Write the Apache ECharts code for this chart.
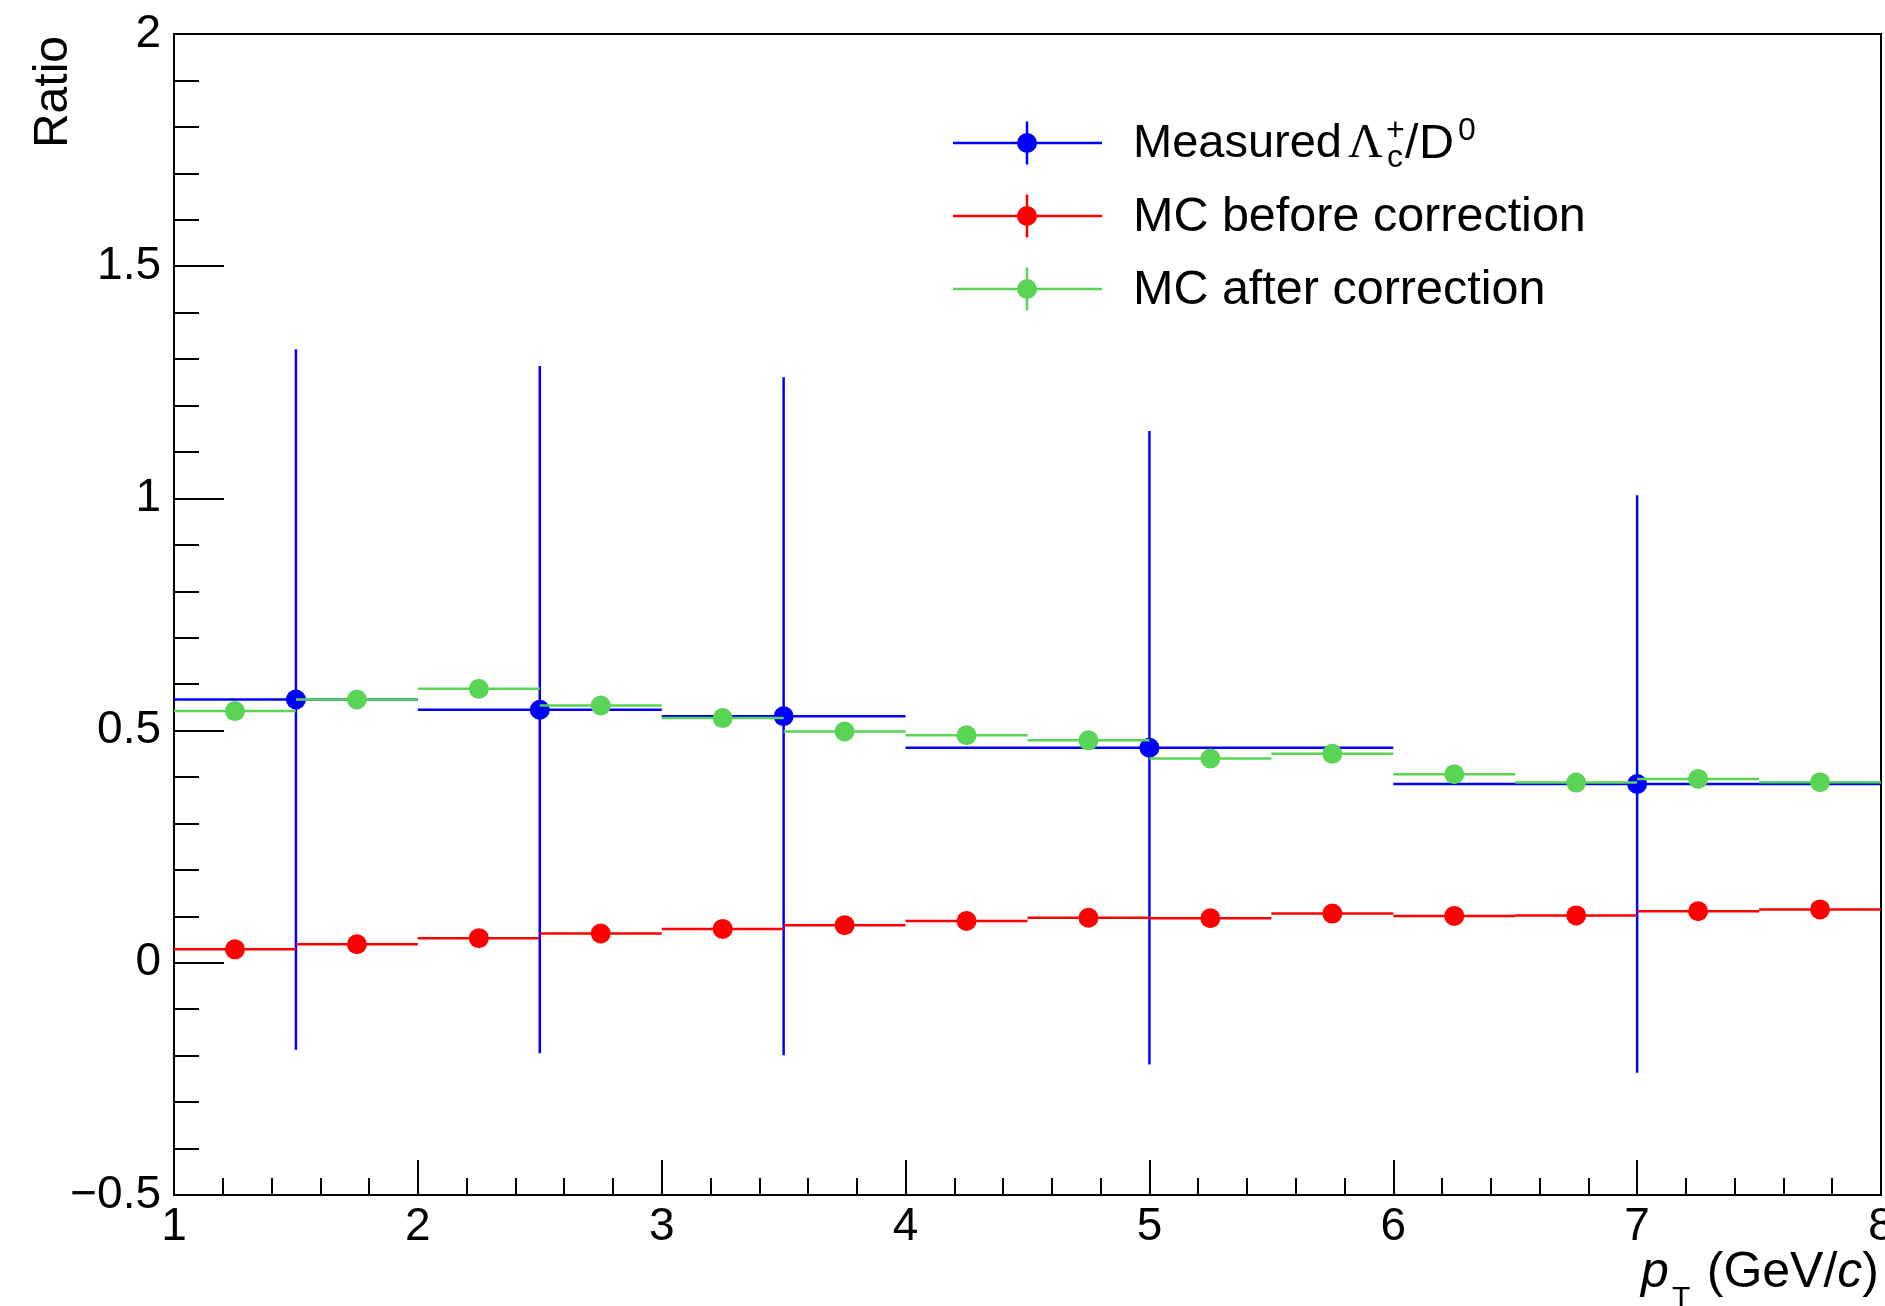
<!DOCTYPE html>
<html>
<head>
<meta charset="utf-8">
<script src="https://cdn.jsdelivr.net/npm/echarts@6/dist/echarts.min.js"></script>
<style>
  html, body { margin: 0; padding: 0; background: #fff; }
  #chart { width: 1885px; height: 1306px; }
</style>
</head>
<body>
<div id="chart"></div>
<script>
// Measured Lambda_c+/D0 ratio: bin edges, bin centres, values and symmetric errors
const measLo  = [1, 2, 3, 4, 6];
const measHi  = [2, 3, 4, 6, 8];
const measX   = [1.5, 2.5, 3.5, 5, 7];
const measY   = [0.567, 0.545, 0.531, 0.463, 0.385];
const measErr = [0.754, 0.740, 0.730, 0.682, 0.622];

// MC ratio in 0.5 GeV/c bins
const mcLo = [1, 1.5, 2, 2.5, 3, 3.5, 4, 4.5, 5, 5.5, 6, 6.5, 7, 7.5];
const mcHi = [1.5, 2, 2.5, 3, 3.5, 4, 4.5, 5, 5.5, 6, 6.5, 7, 7.5, 8];
const mcX  = [1.25, 1.75, 2.25, 2.75, 3.25, 3.75, 4.25, 4.75, 5.25, 5.75, 6.25, 6.75, 7.25, 7.75];
const mcBefore = [0.029, 0.040, 0.053, 0.063, 0.073, 0.081, 0.090, 0.097, 0.096, 0.106, 0.101, 0.102, 0.111, 0.115];
const mcAfter  = [0.542, 0.567, 0.590, 0.554, 0.527, 0.498, 0.490, 0.479, 0.440, 0.450, 0.406, 0.388, 0.396, 0.389];

// Axis tick values
const xTicks = [1, 2, 3, 4, 5, 6, 7, 8];
const yTicks = [-0.5, 0, 0.5, 1, 1.5, 2];

const FONT = '"Liberation Sans", Arial, Helvetica, sans-serif';
const BLUE = '#0000ff', RED = '#ff0000', GREEN = '#59d454';
const LW = 2.5, R = 10;

// One histogram-style point: horizontal bin bar, vertical error bar, round marker
function pointSeries(name, color, lo, hi, xs, ys, errs) {
  return {
    type: 'custom',
    name: name,
    clip: false,
    data: xs.map((x, i) => [lo[i], hi[i], x, ys[i], errs ? errs[i] : 0]),
    encode: { x: [0, 1, 2], y: 3 },
    renderItem: function (params, api) {
      const y = api.value(3), e = api.value(4);
      const pL = api.coord([api.value(0), y]);
      const pR = api.coord([api.value(1), y]);
      const pC = api.coord([api.value(2), y]);
      const pT = api.coord([api.value(2), y + e]);
      const pB = api.coord([api.value(2), y - e]);
      const children = [
        { type: 'line', shape: { x1: pL[0], y1: pL[1], x2: pR[0], y2: pR[1] },
          style: { stroke: color, lineWidth: LW } }
      ];
      if (e > 0) {
        children.push({ type: 'line', shape: { x1: pT[0], y1: pT[1], x2: pB[0], y2: pB[1] },
          style: { stroke: color, lineWidth: LW } });
      }
      children.push({ type: 'circle', shape: { cx: pC[0], cy: pC[1], r: R },
        style: { fill: color } });
      return { type: 'group', children: children };
    }
  };
}

// Legend sample: line, error bar and marker
function legendSample(y, color) {
  return [
    { type: 'line', shape: { x1: 953, y1: y, x2: 1102, y2: y }, style: { stroke: color, lineWidth: LW } },
    { type: 'line', shape: { x1: 1027, y1: y - 21.5, x2: 1027, y2: y + 21.5 }, style: { stroke: color, lineWidth: LW } },
    { type: 'circle', shape: { cx: 1027, cy: y, r: R }, style: { fill: color } }
  ];
}

function txt(x, y, text, opts) {
  return {
    type: 'text', x: x, y: y, silent: true,
    style: Object.assign({
      text: text, fill: '#000', font: '48.5px ' + FONT,
      align: 'left', verticalAlign: 'middle'
    }, opts || {})
  };
}

const L1 = 143, L2 = 216, L3 = 289;

const graphics = [].concat(
  legendSample(L1, BLUE),
  legendSample(L2, RED),
  legendSample(L3, GREEN),
  [
    txt(1133, L1 + 1.5, 'Measured', { font: '47px ' + FONT }),
    txt(1348, L1 + 1.5, 'Λ', { font: '48px "Liberation Serif", "Times New Roman", serif' }),
    txt(1387, L1 + 15, 'c', { font: '32px ' + FONT }),
    txt(1386, L1 - 12, '+', { font: '32px ' + FONT }),
    txt(1405, L1 + 1.5, '/'),
    txt(1419, L1 + 1.5, 'D'),
    txt(1458, L1 - 12, '0', { font: '32px ' + FONT }),
    txt(1133, L2 + 2, 'MC before correction'),
    txt(1133, L3 + 2, 'MC after correction'),
    // y-axis title
    {
      type: 'text', x: 53.5, y: 36, rotation: Math.PI / 2, silent: true,
      style: { text: 'Ratio', fill: '#000', font: '48px ' + FONT, align: 'right', verticalAlign: 'middle' }
    },
    // x-axis title
    {
      type: 'text', x: 1879, y: 1273, silent: true,
      style: {
        text: '{n|(GeV/}{i|c}{n|)}', align: 'right', verticalAlign: 'middle',
        rich: {
          n: { font: '50px ' + FONT, fill: '#000' },
          i: { font: 'italic 50px ' + FONT, fill: '#000' }
        }
      }
    },
    txt(1641, 1273, 'p', { font: 'italic 50px ' + FONT }),
    txt(1672, 1299, 'T', { font: '30px ' + FONT })
  ]
);

const chart = echarts.init(document.getElementById('chart'), null, { renderer: 'canvas' });

const axisCommon = {
  type: 'value',
  axisLine: { show: true, onZero: false, lineStyle: { color: '#000', width: 2 } },
  splitLine: { show: false },
  minorSplitLine: { show: false },
  axisLabel: { color: '#000', fontSize: 46, fontFamily: FONT, showMinLabel: true, showMaxLabel: true }
};

chart.setOption({
  animation: false,
  backgroundColor: '#fff',
  grid: {
    left: 174, right: 4, top: 34, bottom: 111,
    containLabel: false, outerBoundsMode: 'none',
    show: true, borderColor: '#000', borderWidth: 2, backgroundColor: 'transparent'
  },
  xAxis: Object.assign({}, axisCommon, {
    min: xTicks[0], max: xTicks[xTicks.length - 1], interval: 1,
    axisTick: { show: true, inside: true, length: 35, lineStyle: { color: '#000', width: 2 } },
    minorTick: { show: true, splitNumber: 5, length: 17, lineStyle: { color: '#000', width: 2 } },
    axisLabel: Object.assign({}, axisCommon.axisLabel, { margin: 9, hideOverlap: false })
  }),
  yAxis: Object.assign({}, axisCommon, {
    min: yTicks[0], max: yTicks[yTicks.length - 1], interval: 0.5,
    axisTick: { show: true, inside: true, length: 50, lineStyle: { color: '#000', width: 2 } },
    minorTick: { show: true, splitNumber: 5, length: 25, lineStyle: { color: '#000', width: 2 } },
    axisLabel: Object.assign({}, axisCommon.axisLabel, {
      margin: 13,
      formatter: v => (v < 0 ? '\u2212' + String(Math.abs(v)) : String(v))
    })
  }),
  series: [
    pointSeries('Measured', BLUE, measLo, measHi, measX, measY, measErr),
    pointSeries('MC before correction', RED, mcLo, mcHi, mcX, mcBefore, null),
    pointSeries('MC after correction', GREEN, mcLo, mcHi, mcX, mcAfter, null)
  ],
  graphic: graphics
});
</script>
</body>
</html>
